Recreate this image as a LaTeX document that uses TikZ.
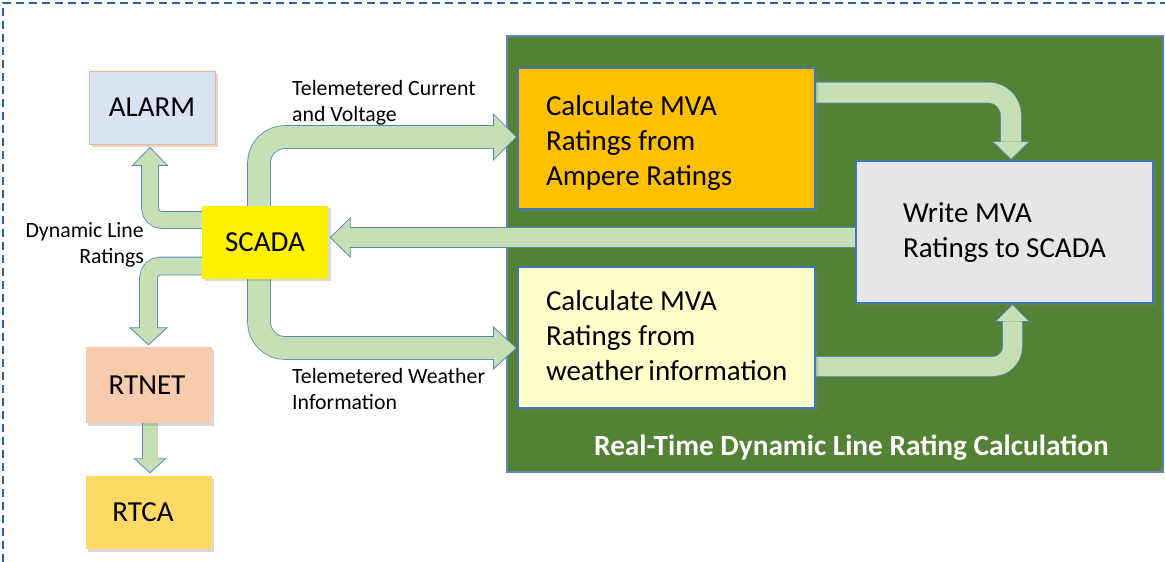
\documentclass[tikz,border=0pt]{standalone}
\usepackage{fontspec}
\setmainfont{Carlito}
\usetikzlibrary{calc,shadows}
\definecolor{arrfill}{HTML}{C5E0B4}
\definecolor{arrline}{HTML}{5B87B5}
\definecolor{dgreen}{HTML}{548235}
\definecolor{boxline}{HTML}{3F78B8}
\definecolor{dashblue}{HTML}{2A63AD}
\definecolor{alarmfill}{HTML}{DAE3F3}
\definecolor{alarmline}{HTML}{F4B183}
\definecolor{rtnetfill}{HTML}{F8CBAD}
\definecolor{rtcafill}{HTML}{FFD966}
\definecolor{ampfill}{HTML}{FFC000}
\definecolor{weafill}{HTML}{FFFFCC}
\definecolor{writefill}{HTML}{E7E6E6}
\pgfdeclarelayer{bg}
\pgfdeclarelayer{arr}
\pgfsetlayers{bg,arr,main}
\newcommand{\blockarrow}[6]{%
  \pgfmathsetmacro{\baW}{#1}%
  \pgfmathsetmacro{\baWo}{#1+1.6}%
  \pgfmathsetmacro{\baH}{#1/2}%
  \begin{pgfonlayer}{arr}
  \draw[arrline, line width=\baWo pt, rounded corners=#3pt] #4 -- (#5);
  \draw[arrfill, line width=\baW pt, rounded corners=#3pt] #4 -- (#5);
  \fill[arrfill] ($(#5)!#2pt!90:(#6)$) -- (#6) -- ($(#5)!#2pt!-90:(#6)$) -- cycle;
  \draw[arrline, line width=0.8pt, line join=miter]
    ($(#5)!\baH pt!90:(#6)$) -- ($(#5)!#2pt!90:(#6)$) -- (#6)
    -- ($(#5)!#2pt!-90:(#6)$) -- ($(#5)!\baH pt!-90:(#6)$);
  \end{pgfonlayer}}
\tikzset{
  shad/.style={drop shadow={shadow xshift=2.5pt, shadow yshift=-2.5pt, opacity=0.3}},
  smallbox/.style={shad, inner sep=0pt, minimum width=126pt, minimum height=73pt,
    font=\fontsize{29}{35}\selectfont},
  bigbox/.style={shad, draw=boxline, line width=1.2pt, inner sep=0pt,
    minimum width=297pt, minimum height=141pt, align=flush left,
    font=\fontsize{29}{35}\selectfont},
  lbl/.style={inner sep=0pt, font=\fontsize{21.8}{26.5}\selectfont},
}
\begin{document}
\begin{tikzpicture}[x=1pt, y=-1pt]
\useasboundingbox (0,0) rectangle (1165,562);
% frame
\draw[dashblue, line width=2pt, dash pattern=on 8pt off 5pt] (3,562) -- (3,3) -- (1165,3);
% container
\begin{pgfonlayer}{bg}
\node[fill=dgreen, draw=arrline, line width=1.2pt, minimum width=656pt, minimum height=436pt, inner sep=0pt]
  (calc) at (835,254) {};
\end{pgfonlayer}
\node[anchor=base, text=white, font=\bfseries\fontsize{29.3}{34}\selectfont, inner sep=0pt]
  (title) at (851.5,455) {Real-Time Dynamic Line Rating Calculation};
% left column
\node[smallbox, fill=alarmfill, draw=alarmline, line width=1pt] (alarm) at (152,107.5) {ALARM};
\node[smallbox, fill=yellow] (scada) at (265,242) {SCADA};
\node[smallbox, fill=rtnetfill, minimum height=76pt] (rtnet) at (148.5,385) {\hspace*{-3pt}RTNET};
\node[smallbox, fill=rtcafill] (rtca) at (148.5,512.5) {\hspace*{-11pt}RTCA};
% calculation boxes
\node[bigbox, fill=ampfill, text width=241pt] (amp) at (666.5,138.5)
  {\rule{0pt}{30pt}Calculate~MVA\\Ratings~from\\Ampere~Ratings\rule[-7pt]{0pt}{0pt}};
\node[bigbox, fill=weafill, text width=241pt] (wea) at (666.5,337.5)
  {\rule{0pt}{25pt}Calculate~MVA\\Ratings~from\\weather~information\rule[-9pt]{0pt}{0pt}};
\node[bigbox, fill=writefill, text width=203pt, minimum height=142pt] (write) at (1004.5,232)
  {\rule{0pt}{25pt}Write~MVA\\Ratings~to~SCADA\rule[-10pt]{0pt}{0pt}};
% labels
\node[lbl, anchor=north west, align=left] (lcur) at (292,80) {Telemetered Current\\and Voltage};
\node[lbl, anchor=north east, align=right] (ldlr) at (144,222) {Dynamic Line\\Ratings};
\node[lbl, anchor=north west, align=left] (lwea) at (292,368) {Telemetered Weather\\Information};
% arrows
% SCADA -> ALARM
\coordinate (a1s) at ($(scada.west)+(2,-22)$);
\coordinate (a1t) at ($(alarm.south)+(-2,3)$);
\coordinate (a1b) at ($(alarm.south)+(-2,21)$);
\coordinate (a1c) at (a1b |- a1s);
\blockarrow{16}{17.5}{12}{(a1s) -- (a1c)}{a1b}{a1t}
% SCADA -> RTNET
\coordinate (a2s) at ($(scada.west)+(2,24)$);
\coordinate (a2t) at ($(rtnet.north)+(0,-2)$);
\coordinate (a2b) at ($(rtnet.north)+(0,-19)$);
\coordinate (a2c) at (a2b |- a2s);
\blockarrow{17}{18.5}{12}{(a2s) -- (a2c)}{a2b}{a2t}
% RTNET -> RTCA
\coordinate (a3s) at ($(rtnet.south)+(1.5,-2)$);
\coordinate (a3t) at ($(rtca.north)+(1.5,-3)$);
\coordinate (a3b) at ($(rtca.north)+(1.5,-17)$);
\blockarrow{15}{15.5}{1}{(a3s)}{a3b}{a3t}
% SCADA -> Ampere
\coordinate (a4s) at ($(scada.north)+(-6,2)$);
\coordinate (a4t) at ($(amp.west)+(-1,-1.5)$);
\coordinate (a4b) at ($(a4t)+(-23,0)$);
\coordinate (a4c) at (a4s |- a4t);
\blockarrow{22}{23}{26}{(a4s) -- (a4c)}{a4b}{a4t}
% SCADA -> Weather
\coordinate (a5s) at ($(scada.south)+(-6,-2)$);
\coordinate (a5t) at ($(wea.west)+(-1,10.5)$);
\coordinate (a5b) at ($(a5t)+(-23,0)$);
\coordinate (a5c) at (a5s |- a5t);
\blockarrow{22}{21}{26}{(a5s) -- (a5c)}{a5b}{a5t}
% Write -> SCADA
\coordinate (a6s) at ($(write.west)+(2,5.5)$);
\coordinate (a6t) at ($(scada.east)+(2,-4.5)$);
\coordinate (a6b) at ($(a6t)+(20,0)$);
\blockarrow{19}{19.5}{1}{(a6s)}{a6b}{a6t}
% Ampere -> Write
\coordinate (a7s) at ($(amp.east)+(-2,-46)$);
\coordinate (a7t) at ($(write.north)+(6.5,-1)$);
\coordinate (a7b) at ($(a7t)+(0,-18)$);
\coordinate (a7c) at (a7t |- a7s);
\blockarrow{20}{18.5}{23}{(a7s) -- (a7c)}{a7b}{a7t}
% Weather -> Write
\coordinate (a8s) at ($(wea.east)+(-2,29)$);
\coordinate (a8t) at ($(write.south)+(8,1)$);
\coordinate (a8b) at ($(a8t)+(0,17)$);
\coordinate (a8c) at (a8t |- a8s);
\blockarrow{19}{17}{20}{(a8s) -- (a8c)}{a8b}{a8t}
\end{tikzpicture}
\end{document}
